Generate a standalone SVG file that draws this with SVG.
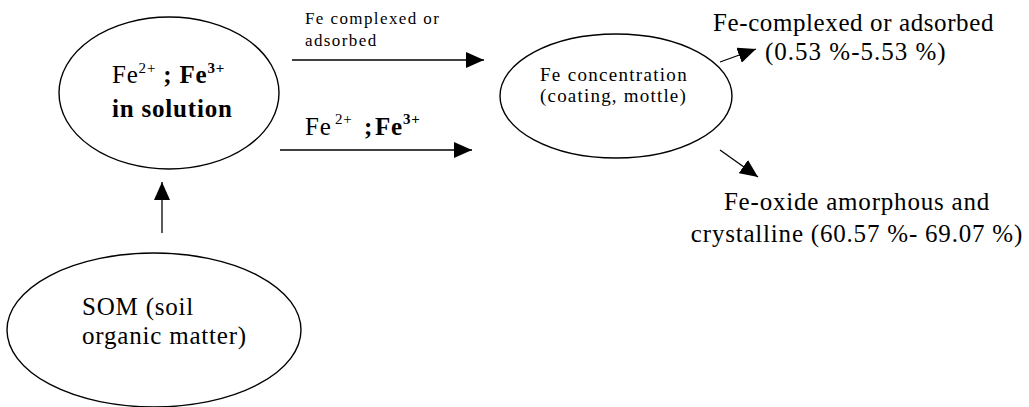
<svg xmlns="http://www.w3.org/2000/svg" width="1029" height="407" viewBox="0 0 1029 407">
<style>
.node{fill:none;stroke:#000;stroke-width:1.4}
.t{font-family:"Liberation Serif","Times New Roman",serif;fill:#000}
.big{font-size:25px;letter-spacing:0.8px}
.small{font-size:17px;letter-spacing:1.4px}
.mid{font-size:19px;letter-spacing:1.3px}
.sup{font-size:15px}
.b{font-weight:bold}
.conn line{stroke:#000;stroke-width:1.3;marker-end:url(#ah)}
</style>
<defs>
<marker id="ah" viewBox="0 0 18 16" refX="18" refY="8" markerWidth="18" markerHeight="16" markerUnits="userSpaceOnUse" orient="auto">
<path d="M0,0 L18,8 L0,16 Z" fill="#000"/>
</marker>
</defs>
<rect width="1029" height="407" fill="#fff"/>
<g id="node-solution">
<ellipse class="node" cx="169" cy="93" rx="110" ry="76"/>
<text class="t big" x="112" y="83">Fe<tspan class="sup" dy="-10">2+</tspan><tspan class="b" dy="10"> ; Fe</tspan><tspan class="sup b" dy="-10">3+</tspan></text>
<text class="t big b" x="112" y="117">in solution</text>
</g>
<g id="node-concentration">
<ellipse class="node" cx="616" cy="96" rx="116" ry="62"/>
<text class="t mid" x="540" y="81">Fe concentration</text>
<text class="t mid" x="540" y="102" style="letter-spacing:1.2px">(coating, mottle)</text>
</g>
<g id="node-som">
<ellipse class="node" cx="154" cy="330" rx="147" ry="77"/>
<text class="t big" x="82" y="315">SOM (soil</text>
<text class="t big" x="82" y="344">organic matter)</text>
</g>
<g id="node-complexed">
<text class="t big" x="713" y="31" style="letter-spacing:0.6px">Fe-complexed or adsorbed</text>
<text class="t big" x="765" y="60" style="letter-spacing:1px">(0.53 %-5.53 %)</text>
</g>
<g id="node-oxide">
<text class="t big" x="857" y="210" text-anchor="middle">Fe-oxide amorphous and</text>
<text class="t big" x="857" y="242" text-anchor="middle">crystalline (60.57 %- 69.07 %)</text>
</g>
<g id="connectors" class="conn">
<line x1="292" y1="60" x2="484" y2="60"/>
<line x1="280" y1="150" x2="472" y2="150"/>
<line x1="162" y1="233" x2="162" y2="182"/>
<line x1="720" y1="62" x2="756" y2="49"/>
<line x1="720" y1="150" x2="758" y2="177"/>
</g>
<g id="connector-labels">
<text class="t small" x="305" y="24">Fe complexed or</text>
<text class="t small" x="305" y="46">adsorbed</text>
<text class="t big" x="305" y="135">Fe<tspan class="sup" x="335" dy="-11">2+</tspan><tspan class="b" x="364" dy="11">;</tspan><tspan class="b" x="375">Fe</tspan><tspan class="sup b" dy="-11">3+</tspan></text>
</g>
</svg>
